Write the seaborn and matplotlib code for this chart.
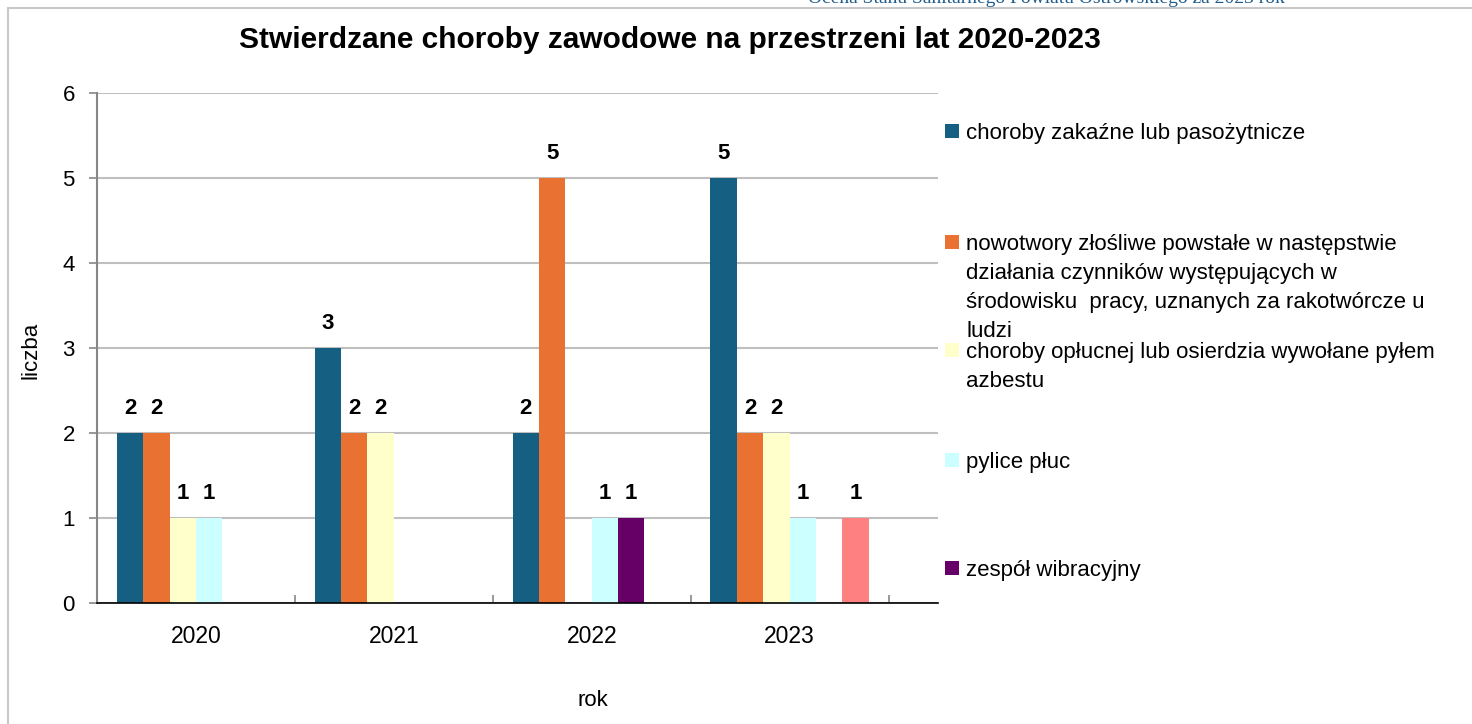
import matplotlib
matplotlib.use("Agg")
import matplotlib.pyplot as plt
from matplotlib.patches import Rectangle
from matplotlib.lines import Line2D
import seaborn as sns
import pandas as pd

# data
years = ["2020", "2021", "2022", "2023"]
series = [
    "choroby zakaźne lub pasożytnicze",
    "nowotwory złośliwe powstałe w następstwie\ndziałania czynników występujących w\nśrodowisku  pracy, uznanych za rakotwórcze u\nludzi",
    "choroby opłucnej lub osierdzia wywołane pyłem\nazbestu",
    "pylice płuc",
    "zespół wibracyjny",
    "inne",
]
zakazne = [2, 3, 2, 5]
nowotwory = [2, 2, 5, 2]
oplucna = [1, 2, 0, 2]
pylice = [1, 0, 1, 1]
wibracyjny = [0, 0, 1, 0]
inne = [0, 0, 0, 1]
colors = ["#156082", "#E97132", "#FFFFCC", "#CCFFFF", "#660066", "#FF8080"]
legend_y = [131, 242, 350, 460, 568]  # px, first line of each legend entry

values = [zakazne, nowotwory, oplucna, pylice, wibracyjny, inne]
rows = []
for s, vals in zip(series, values):
    for y, v in zip(years, vals):
        rows.append({"rok": y, "seria": s, "liczba": v})
df = pd.DataFrame(rows)

sns.set_style("white")
plt.rcParams['font.family'] = ['Liberation Sans', 'DejaVu Sans']
plt.rcParams['text.color'] = 'black'
plt.rcParams['axes.labelcolor'] = 'black'
plt.rcParams['xtick.color'] = 'black'
plt.rcParams['ytick.color'] = 'black'

W, H = 1472, 724
fig = plt.figure(figsize=(W / 100, H / 100), dpi=100)
ax = fig.add_axes([97 / W, 1 - 603 / H, (938 - 97) / W, (603 - 93) / H])

sns.barplot(data=df, x="rok", y="liczba", hue="seria", hue_order=series,
            palette=colors, saturation=1, width=0.8, linewidth=0, ax=ax, legend=False)

# value labels on non-zero bars
for cont, vals in zip(ax.containers, values):
    labels = [str(v) if v > 0 else "" for v in vals]
    ax.bar_label(cont, labels=labels, padding=10, fontsize=16, fontweight="bold", color="black")

ax.set_ylim(0, 6)
ax.set_xlim(-0.5, 3.75)
ax.set_yticks(range(0, 7))
ax.yaxis.grid(True, color="#BFBFBF", linewidth=1.5)
ax.set_axisbelow(True)
for side in ["top", "right"]:
    ax.spines[side].set_visible(False)
ax.spines["left"].set_color("#868686")
ax.spines["left"].set_linewidth(1.5)
ax.spines["bottom"].set_color("black")
ax.spines["bottom"].set_linewidth(1.2)

ax.tick_params(axis="y", length=6, width=1.2, color="#868686", labelcolor="black",
               pad=10, labelsize=16, left=True)
ax.tick_params(axis="x", which="major", length=0, pad=16, labelsize=16.5, labelcolor="black")
ax.set_xticks([-0.5, 0.5, 1.5, 2.5, 3.5], minor=True)
ax.tick_params(axis="x", which="minor", direction="in", length=6, width=1.2, color="#868686", bottom=True)

ax.set_xlabel("rok", fontsize=16)
ax.set_ylabel("liczba", fontsize=16)
ax.xaxis.set_label_coords((593 - 97) / 841, (603 - 690) / 510)
ax.yaxis.set_label_coords((42 - 97) / 841, (603 - 350) / 510)

fig.text(670 / W, 1 - 40 / H, "Stwierdzane choroby zawodowe na przestrzeni lat 2020-2023",
         ha="center", va="center", fontsize=21.5, fontweight="bold")

# legend drawn by hand to keep Excel's even spacing (6th series not listed)
for s, c, yp in zip(series[:5], colors[:5], legend_y):
    fig.patches.append(Rectangle((945 / W, 1 - (yp + 7) / H), 14 / W, 14 / H,
                                 transform=fig.transFigure, facecolor=c, edgecolor="none"))
    fig.text(966 / W, 1 - (yp - 8) / H, s, ha="left", va="top", fontsize=16,
             linespacing=1.5)

# page header and chart frame
fig.text(1285 / W, 1 - 3 / H, "Ocena Stanu Sanitarnego Powiatu Ostrowskiego za 2023 rok",
         ha="right", va="baseline", fontsize=14, color="#1F5C8B",
         family=["Liberation Serif", "DejaVu Serif"])
fig.add_artist(Line2D([8 / W, 1], [1 - 8 / H, 1 - 8 / H], transform=fig.transFigure,
                      color="#C8C8C8", linewidth=1.5))
fig.add_artist(Line2D([8 / W, 8 / W], [0, 1 - 8 / H], transform=fig.transFigure,
                      color="#C8C8C8", linewidth=1.5))

fig.savefig("out.png", dpi=100)
